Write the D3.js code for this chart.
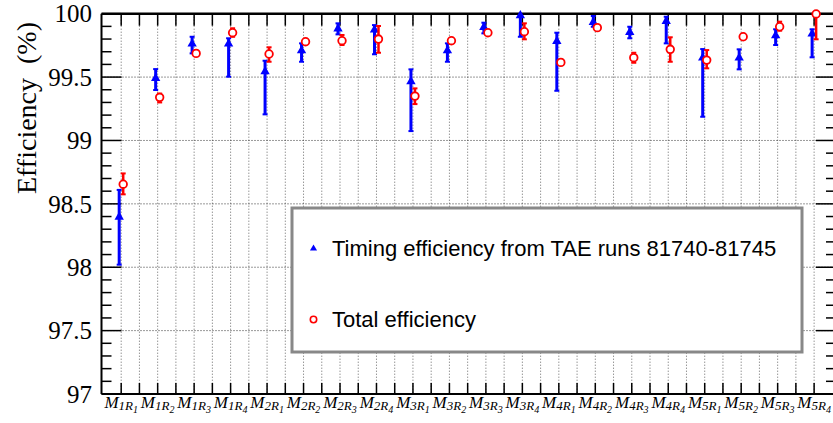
<!DOCTYPE html>
<html>
<head>
<meta charset="utf-8">
<script src="https://cdn.jsdelivr.net/npm/d3@7"></script>
<style>
  body { margin: 0; background: #fff; }
  svg { display: block; }
</style>
</head>
<body>
<svg width="833" height="423"></svg>
<script>
// chambers (station + region)
var stations = ["1","1","1","1","2","2","2","2","3","3","3","3","4","4","4","4","5","5","5","5"];
var regions  = ["1","2","3","4","1","2","3","4","1","2","3","4","1","2","3","4","1","2","3","4"];

// timing efficiency from TAE runs (blue triangles), asymmetric errors
var timingEff   = [98.40, 99.495, 99.766, 99.766, 99.548, 99.713, 99.885, 99.877, 99.469, 99.713,
                   99.897, 99.99, 99.787, 99.937, 99.858, 99.945, 99.656, 99.656, 99.832, 99.845];
var timingErrHi = [0.21, 0.068, 0.052, 0.04, 0.081, 0.053, 0.039, 0.033, 0.092, 0.053,
                   0.032, 0.03, 0.063, 0.045, 0.039, 0.031, 0.065, 0.063, 0.045, 0.032];
var timingErrLo = [0.38, 0.097, 0.079, 0.263, 0.342, 0.092, 0.048, 0.197, 0.395, 0.092,
                   0.052, 0.172, 0.395, 0.04, 0.052, 0.179, 0.469, 0.095, 0.079, 0.189];

// total efficiency (red open circles)
var totalEff   = [98.655, 99.34, 99.687, 99.85, 99.682, 99.779, 99.787, 99.80, 99.35, 99.787,
                  99.85, 99.858, 99.616, 99.89, 99.653, 99.719, 99.634, 99.818, 99.897, 99.998];
var totalErrHi = [0.085, 0.03, 0.02, 0.035, 0.053, 0.02, 0.045, 0.103, 0.061, 0.02,
                  0.015, 0.066, 0.02, 0.015, 0.039, 0.095, 0.079, 0.02, 0.04, 0.05];
var totalErrLo = [0.08, 0.04, 0.02, 0.032, 0.061, 0.02, 0.034, 0.108, 0.063, 0.02,
                  0.015, 0.06, 0.02, 0.015, 0.04, 0.098, 0.065, 0.02, 0.031, 0.20];

var yTicks = [97, 97.5, 98, 98.5, 99, 99.5, 100];
var legendLabels = ["Timing efficiency from TAE runs 81740-81745", "Total efficiency"];

var svg = d3.select("svg");
var pLeft = 101.5, pRight = 836, pTop = 13.7, pBottom = 394;

var x = d3.scaleLinear().domain([-0.54, 19.6]).range([pLeft, pRight]);
var y = d3.scaleLinear().domain([97, 100]).range([pBottom, pTop]);
var clampY = v => y(Math.min(100, Math.max(97, v)));

// grid
var xGrid = d3.range(0, 19.01, 0.5);
var g = svg.append("g");
g.selectAll(".vg").data(xGrid).enter().append("line")
  .attr("x1", d => x(d)).attr("x2", d => x(d))
  .attr("y1", pTop).attr("y2", pBottom)
  .attr("stroke", "#666").attr("stroke-width", 1).attr("stroke-dasharray", "1,2");
g.selectAll(".hg").data(yTicks.slice(1, -1)).enter().append("line")
  .attr("x1", pLeft).attr("x2", pRight)
  .attr("y1", d => y(d)).attr("y2", d => y(d))
  .attr("stroke", "#333").attr("stroke-width", 1).attr("stroke-dasharray", "1,2");

// y ticks (left and mirrored right)
var yMinor = d3.range(97, 100.001, 0.1);
yMinor.forEach(function(v) {
  var major = Math.abs(v * 2 - Math.round(v * 2)) < 1e-6;
  var len = major ? 20 : 10;
  g.append("line").attr("x1", pLeft).attr("x2", pLeft + len)
    .attr("y1", y(v)).attr("y2", y(v)).attr("stroke", "#000").attr("stroke-width", 1.5);
  g.append("line").attr("x1", pRight).attr("x2", pRight - len)
    .attr("y1", y(v)).attr("y2", y(v)).attr("stroke", "#000").attr("stroke-width", 1.5);
});

// x ticks top and bottom
xGrid.forEach(function(v) {
  g.append("line").attr("x1", x(v)).attr("x2", x(v)).attr("y1", pTop).attr("y2", pTop + 12)
    .attr("stroke", "#000").attr("stroke-width", 1.5);
  g.append("line").attr("x1", x(v)).attr("x2", x(v)).attr("y1", pBottom).attr("y2", pBottom - 11)
    .attr("stroke", "#000").attr("stroke-width", 1.5);
});

// frame
g.append("line").attr("x1", pLeft).attr("x2", pLeft).attr("y1", pTop).attr("y2", pBottom).attr("stroke", "#000").attr("stroke-width", 2);
g.append("line").attr("x1", pLeft).attr("x2", pRight).attr("y1", pTop).attr("y2", pTop).attr("stroke", "#000").attr("stroke-width", 2.5);
g.append("line").attr("x1", pLeft).attr("x2", pRight).attr("y1", pBottom).attr("y2", pBottom).attr("stroke", "#000").attr("stroke-width", 2);

// y tick labels
svg.selectAll(".yl").data(yTicks).enter().append("text")
  .attr("x", 92).attr("y", d => y(d)).attr("dy", "0.35em")
  .attr("text-anchor", "end")
  .style("font-family", "'Liberation Serif', serif").style("font-size", "25px")
  .text(d => d);

// y title
svg.append("text")
  .attr("transform", "translate(36,22) rotate(-90)")
  .attr("text-anchor", "end")
  .style("font-family", "'Liberation Serif', serif").style("font-size", "28px")
  .text("Efficiency\u00a0\u00a0(%)");

// x labels
stations.forEach(function(s, i) {
  var t = svg.append("text").attr("x", x(i)).attr("y", 408)
    .attr("text-anchor", "middle")
    .style("font-family", "'Liberation Serif', serif").style("font-style", "italic");
  t.append("tspan").style("font-size", "17px").text("M");
  t.append("tspan").style("font-size", "13px").attr("dy", 2).text(s + "R");
  t.append("tspan").style("font-size", "10px").attr("dy", 3).text(regions[i]);
});

// timing efficiency: blue bars + triangles
var blue = "#0000ff", red = "#ff0000";
var dx = 0.055;
var tri = d3.symbol().type(d3.symbolTriangle).size(38);
timingEff.forEach(function(v, i) {
  var cx = x(i - dx);
  var y1 = clampY(v + timingErrHi[i]), y2 = clampY(v - timingErrLo[i]);
  svg.append("line").attr("x1", cx).attr("x2", cx).attr("y1", y1).attr("y2", y2)
    .attr("stroke", blue).attr("stroke-width", 3);
  [y1, y2].forEach(function(yy) {
    if (yy > pTop + 0.5)
      svg.append("line").attr("x1", cx - 2.5).attr("x2", cx + 2.5).attr("y1", yy).attr("y2", yy)
        .attr("stroke", blue).attr("stroke-width", 2);
  });
  svg.append("path").attr("d", tri).attr("transform", "translate(" + cx + "," + (y(v) + 0.5) + ")")
    .attr("fill", blue);
});

// total efficiency: red bars + open circles
totalEff.forEach(function(v, i) {
  var cx = x(i + dx);
  var y1 = clampY(v + totalErrHi[i]), y2 = clampY(v - totalErrLo[i]);
  svg.append("line").attr("x1", cx).attr("x2", cx).attr("y1", y1).attr("y2", y2)
    .attr("stroke", red).attr("stroke-width", 2.5);
  [y1, y2].forEach(function(yy) {
    if (yy > pTop + 0.5)
      svg.append("line").attr("x1", cx - 2.5).attr("x2", cx + 2.5).attr("y1", yy).attr("y2", yy)
        .attr("stroke", red).attr("stroke-width", 2);
  });
  svg.append("circle").attr("cx", cx).attr("cy", y(v)).attr("r", 3.8)
    .attr("fill", "#fff").attr("stroke", red).attr("stroke-width", 1.8);
});

// legend
var lg = svg.append("g");
lg.append("rect").attr("x", 292).attr("y", 208).attr("width", 510).attr("height", 144)
  .attr("fill", "#fff").attr("stroke", "#888").attr("stroke-width", 3);
lg.append("path").attr("d", d3.symbol().type(d3.symbolTriangle).size(22))
  .attr("transform", "translate(313.5,248.5)").attr("fill", blue);
lg.append("circle").attr("cx", 313.5).attr("cy", 319.5).attr("r", 3.2)
  .attr("fill", "#fff").attr("stroke", red).attr("stroke-width", 1.6);
legendLabels.forEach(function(l, i) {
  lg.append("text").attr("x", 332).attr("y", 256 + i * 71)
    .style("font-family", "'Liberation Sans', Arial, sans-serif").style("font-size", "22px")
    .text(l);
});
</script>
</body>
</html>
